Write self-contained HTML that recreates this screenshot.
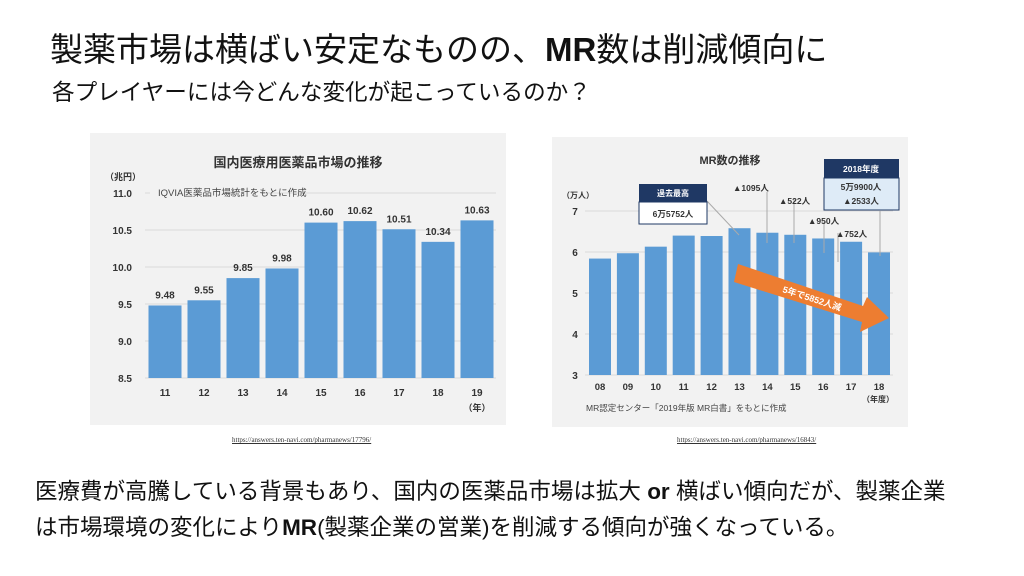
<!DOCTYPE html>
<html><head><meta charset="utf-8">
<style>
body{margin:0;width:1024px;height:576px;background:#fff;overflow:hidden;position:relative;font-family:"Liberation Sans","Noto Sans CJK JP",sans-serif;}
.t{position:absolute;white-space:nowrap;color:#111;}
svg{position:absolute;left:0;top:0;}
svg text{font-family:"Liberation Sans","Noto Sans CJK JP",sans-serif;}
</style></head><body>
<div class="t" style="left:50px;top:23px;font-size:33px;">製薬市場は横ばい安定なものの、<b>MR</b>数は削減傾向に</div>
<div class="t" style="left:52px;top:74px;font-size:22.6px;">各プレイヤーには今どんな変化が起こっているのか？</div>
<div class="t" style="left:35px;top:474px;font-size:22.5px;">医療費が高騰している背景もあり、国内の医薬品市場は拡大 <b>or</b> 横ばい傾向だが、製薬企業</div>
<div class="t" style="left:35px;top:510px;font-size:22.5px;">は市場環境の変化により<b>MR</b>(製薬企業の営業)を削減する傾向が強くなっている。</div>
<div class="t" style="left:232px;top:436px;font-size:7px;color:#333;text-decoration:underline;font-family:'Liberation Serif',serif;">https://answers.ten-navi.com/pharmanews/17796/</div>
<div class="t" style="left:677px;top:436px;font-size:7px;color:#333;text-decoration:underline;font-family:'Liberation Serif',serif;">https://answers.ten-navi.com/pharmanews/16843/</div>
<svg id="chart" width="1024" height="576"></svg>
<script>
const marketYears=["11","12","13","14","15","16","17","18","19"];
const marketValues=[9.48,9.55,9.85,9.98,10.60,10.62,10.51,10.34,10.63];
const marketTicks=[8.5,9.0,9.5,10.0,10.5,11.0];
const mrYears=["08","09","10","11","12","13","14","15","16","17","18"];
const mrValues=[5.84,5.97,6.13,6.40,6.39,6.58,6.47,6.42,6.33,6.25,5.99];
const mrTicks=[3,4,5,6,7];
const NS="http://www.w3.org/2000/svg";
const svg=document.getElementById('chart');
function mk(tag,at,txt,parent){const e=document.createElementNS(NS,tag);for(const k in at)e.setAttribute(k,at[k]);if(txt!==undefined)e.textContent=txt;(parent||svg).appendChild(e);return e;}
// LEFT CHART
const g1=mk('g',{});


mk('rect',{x:90,y:133,width:416,height:292,fill:'#f2f2f2'},undefined,g1);
const y1=v=>378-(v-8.5)/(11.0-8.5)*185;
const x1=i=>165+i*39;
marketTicks.forEach(t=>{
  if(t>8.5){const l=mk('line',{x1:145,x2:496,y1:y1(t),y2:y1(t),stroke:'#d9d9d9','stroke-width':1},undefined,g1);}
  const tx=mk('text',{x:132,y:y1(t)+4,'text-anchor':'end','font-size':10,'font-weight':'bold',fill:'#333'},t.toFixed(1),g1);
  
});
mk('rect',{x:150,y:183,width:110,height:16,fill:'#f2f2f2'},undefined,g1);
mk('line',{x1:145,x2:496,y1:378,y2:378,stroke:'#d9d9d9'},undefined,g1);
marketValues.forEach((v,i)=>{
  const b=mk('rect',{x:x1(i)-16.5,y:y1(v),width:33,height:378-y1(v),fill:'#5b9bd5'},undefined,g1);
  
  const lb=mk('text',{x:x1(i),y:y1(v)-7,'text-anchor':'middle','font-size':10,'font-weight':'bold',fill:'#333'},v.toFixed(2),g1);
  
  const xl=mk('text',{x:x1(i),y:396,'text-anchor':'middle','font-size':10,'font-weight':'bold',fill:'#333'},marketYears[i],g1);
  
});
let e;
e=mk('text',{x:298,y:167,'text-anchor':'middle','font-size':13,'font-weight':'bold',fill:'#333'},'国内医療用医薬品市場の推移',g1);
e=mk('text',{x:105,y:180,'font-size':9,'font-weight':'bold',fill:'#333'},'（兆円）',g1);
e=mk('text',{x:158,y:196,'font-size':9.5,fill:'#444'},'IQVIA医薬品市場統計をもとに作成',g1);
e=mk('text',{x:477,y:411,'text-anchor':'middle','font-size':9,'font-weight':'bold',fill:'#333'},'（年）',g1);
// RIGHT CHART
const g2=mk('g',{});


mk('rect',{x:552,y:137,width:356,height:290,fill:'#f2f2f2'},undefined,g2);
const y2=v=>375-(v-3)/(7-3)*164;
const x2=i=>600+i*27.9;
mrTicks.forEach(t=>{
  if(t>3){const l=mk('line',{x1:585,x2:893,y1:y2(t),y2:y2(t),stroke:'#d9d9d9'},undefined,g2);}
  const tx=mk('text',{x:575,y:y2(t)+4,'text-anchor':'middle','font-size':10,'font-weight':'bold',fill:'#333'},t,g2);
  
});
mk('line',{x1:585,x2:893,y1:375,y2:375,stroke:'#d9d9d9'},undefined,g2);
mrValues.forEach((v,i)=>{
  const b=mk('rect',{x:x2(i)-11,y:y2(v),width:22,height:375-y2(v),fill:'#5b9bd5'},undefined,g2);
  
  const xl=mk('text',{x:x2(i),y:390,'text-anchor':'middle','font-size':9.5,'font-weight':'bold',fill:'#333'},mrYears[i],g2);
  
});
// arrow
e=mk('polygon',{points:'738,264 863,306 867,297 889,318 860,332 862,322 734,282',fill:'#ed7d31'},undefined,g2);
e=mk('text',{x:0,y:0,'font-size':9,'font-weight':'bold',fill:'#fff',transform:'translate(782,292) rotate(18)'},'5年で5852人減',g2);
// callouts
const leaders=[[707,201,739,235],[767,192,767,243],[794,199,794,243],[824,222,824,253],[838,233,838,262],[880,211,880,256]];
leaders.forEach(p=>{const l=mk('line',{x1:p[0],y1:p[1],x2:p[2],y2:p[3],stroke:'#aaa','stroke-width':1},undefined,g2);});
mk('rect',{x:639,y:184,width:68,height:18,fill:'#1f3864'},undefined,g2);
mk('rect',{x:639,y:202,width:68,height:22,fill:'#fff',stroke:'#1f3864'},undefined,g2);
e=mk('text',{x:673,y:196,'text-anchor':'middle','font-size':8,'font-weight':'bold',fill:'#fff'},'過去最高',g2);
e=mk('text',{x:673,y:217,'text-anchor':'middle','font-size':8.5,'font-weight':'bold',fill:'#333'},'6万5752人',g2);
mk('rect',{x:824,y:159,width:75,height:19,fill:'#1f3864'},undefined,g2);
mk('rect',{x:824,y:178,width:75,height:32,fill:'#deebf7',stroke:'#1f3864'},undefined,g2);
e=mk('text',{x:861,y:172,'text-anchor':'middle','font-size':8.5,'font-weight':'bold',fill:'#fff'},'2018年度',g2);
e=mk('text',{x:861,y:190,'text-anchor':'middle','font-size':8.5,'font-weight':'bold',fill:'#333'},'5万9900人',g2);
e=mk('text',{x:861,y:204,'text-anchor':'middle','font-size':8.5,'font-weight':'bold',fill:'#333'},'▲2533人',g2);
const dec=[['▲1095人',733,191],['▲522人',779,204],['▲950人',808,224],['▲752人',836,237]];
dec.forEach(d=>{const t=mk('text',{x:d[1],y:d[2],'font-size':8.5,'font-weight':'bold',fill:'#333'},d[0],g2);});
e=mk('text',{x:730,y:164,'text-anchor':'middle','font-size':11,'font-weight':'bold',fill:'#333'},'MR数の推移',g2);
e=mk('text',{x:562,y:198,'font-size':8,'font-weight':'bold',fill:'#333'},'（万人）',g2);
e=mk('text',{x:878,y:402,'text-anchor':'middle','font-size':8,'font-weight':'bold',fill:'#333'},'（年度）',g2);
e=mk('text',{x:586,y:411,'font-size':8.5,fill:'#444'},'MR認定センター「2019年版 MR白書」をもとに作成',g2);
</script>
</body></html>
